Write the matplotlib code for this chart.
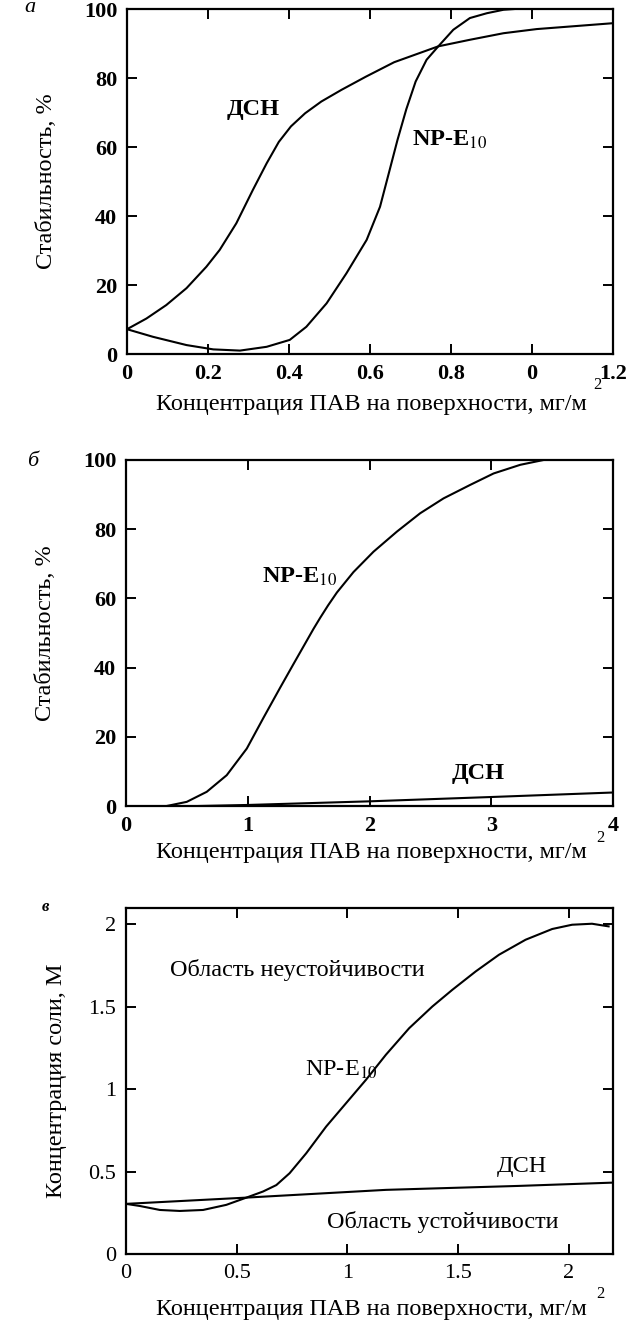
import matplotlib

matplotlib.use("Agg")
import matplotlib.pyplot as plt

plt.rcParams["font.family"] = ["Liberation Serif", "DejaVu Serif"]
plt.rcParams["mathtext.fontset"] = "stix"

# panel a: stability vs surface concentration
A_DSN_X = [0.0, 0.048, 0.097, 0.147, 0.196, 0.229, 0.27, 0.311, 0.345, 0.375, 0.405, 0.44,
           0.48, 0.53, 0.59, 0.66, 0.769, 0.847, 0.93, 1.012, 1.2]
A_DSN_Y = [7.2, 10.3, 14.2, 19.1, 25.3, 30.2, 37.9, 47.6, 55.3, 61.5, 66.0, 69.8,
           73.2, 76.6, 80.4, 84.6, 89.2, 91.1, 93.0, 94.2, 95.9]
A_NP_X = [0.0, 0.064, 0.147, 0.213, 0.279, 0.345, 0.402, 0.443, 0.493, 0.542, 0.592, 0.625,
          0.648, 0.668, 0.69, 0.713, 0.74, 0.769, 0.806, 0.847, 0.889, 0.93, 0.955]
A_NP_Y = [7.2, 5.0, 2.6, 1.35, 1.0, 2.1, 4.1, 7.9, 14.7, 23.4, 33.1, 42.7,
          53.0, 62.0, 71.0, 79.0, 85.3, 89.2, 94.0, 97.4, 98.8, 99.8, 100.0]
A_XTICKS = [0, 0.2, 0.4, 0.6, 0.8, 1.0, 1.2]
A_XLABELS = ["0", "0.2", "0.4", "0.6", "0.8", "0", "1.2"]
A_YTICKS = [0, 20, 40, 60, 80, 100]

# panel b
B_NP_X = [0.334, 0.499, 0.663, 0.827, 0.992, 1.129, 1.266, 1.375, 1.485, 1.54, 1.595, 1.66,
          1.732, 1.868, 2.033, 2.225, 2.416, 2.608, 2.827, 3.019, 3.238, 3.43]
B_NP_Y = [0.0, 1.2, 4.1, 8.9, 16.6, 25.5, 34.2, 41.0, 47.8, 51.2, 54.4, 58.0,
          61.7, 67.6, 73.5, 79.3, 84.6, 88.9, 92.8, 96.1, 98.6, 100.0]
B_DSN_X = [0.6, 1.0, 2.0, 3.0, 4.0]
B_DSN_Y = [0.0, 0.3, 1.35, 2.6, 3.9]
B_XTICKS = [0, 1, 2, 3, 4]
B_YTICKS = [0, 20, 40, 60, 80, 100]

# panel c: critical salt concentration
C_NP_X = [0.0, 0.063, 0.153, 0.243, 0.348, 0.453, 0.544, 0.619, 0.679, 0.739, 0.814, 0.904,
          0.994, 1.084, 1.174, 1.279, 1.384, 1.474, 1.58, 1.685, 1.805, 1.925, 2.015, 2.105, 2.18]
C_NP_Y = [0.304, 0.291, 0.267, 0.261, 0.267, 0.298, 0.342, 0.379, 0.418, 0.49, 0.611, 0.773,
          0.915, 1.057, 1.209, 1.37, 1.502, 1.603, 1.715, 1.816, 1.907, 1.972, 1.998, 2.004, 1.988]
C_DSN_X = [0.0, 0.544, 1.174, 1.775, 2.2]
C_DSN_Y = [0.304, 0.342, 0.389, 0.413, 0.433]
C_XTICKS = [0, 0.5, 1, 1.5, 2]
C_XLABELS = ["0", "0.5", "1", "1.5", "2"]
C_YTICKS = [0, 0.5, 1, 1.5, 2]
C_YLABELS = ["0", "0.5", "1", "1.5", "2"]

XLABEL = "Концентрация ПАВ на поверхности, мг/м"
NP_LABEL = "NP-E$_{10}$"
FS = 17.5


def style_axes(ax, tick_weight):
    for spine in ax.spines.values():
        spine.set_linewidth(1.6)
    ax.tick_params(direction="in", length=7, width=1.4, top=True, right=True,
                   labelsize=16, pad=7)
    for label in ax.get_xticklabels() + ax.get_yticklabels():
        label.set_fontweight(tick_weight)


def axis_labels(ax, ylabel, xlabel_y, ylabel_x, sup_xy):
    ax.set_xlabel(XLABEL, fontsize=FS, va="center")
    ax.set_ylabel(ylabel, fontsize=FS, va="center")
    ax.xaxis.set_label_coords(0.504, xlabel_y)
    ax.yaxis.set_label_coords(ylabel_x, 0.5)
    ax.text(sup_xy[0], sup_xy[1], "2", fontsize=12, transform=ax.transAxes,
            ha="center", va="center")


def main() -> None:
    fig = plt.figure(figsize=(6.26, 13.34), dpi=100)
    line = dict(color="black", linewidth=1.5)

    ax_a = fig.add_axes([0.2029, 0.7346, 0.776, 0.2586])
    ax_a.plot(A_DSN_X, A_DSN_Y, **line)
    ax_a.plot(A_NP_X, A_NP_Y, **line)
    ax_a.set_xlim(0, 1.2)
    ax_a.set_ylim(0, 100)
    ax_a.set_xticks(A_XTICKS, labels=A_XLABELS)
    ax_a.set_yticks(A_YTICKS)
    axis_labels(ax_a, "Стабильность, %", -0.147, -0.165, (0.968, -0.09))
    ax_a.text(0.311, 70.8, "ДСН", fontsize=FS, fontweight="bold", ha="center", va="center")
    ax_a.text(0.798, 62.1, NP_LABEL, fontsize=FS, fontweight="bold", ha="center", va="center")
    style_axes(ax_a, "bold")

    ax_b = fig.add_axes([0.2013, 0.3958, 0.778, 0.2594])
    ax_b.plot(B_NP_X, B_NP_Y, **line)
    ax_b.plot(B_DSN_X, B_DSN_Y, **line)
    ax_b.set_xlim(0, 4)
    ax_b.set_ylim(0, 100)
    ax_b.set_xticks(B_XTICKS)
    ax_b.set_yticks(B_YTICKS)
    axis_labels(ax_b, "Стабильность, %", -0.135, -0.165, (0.975, -0.092))
    ax_b.text(1.43, 66.2, NP_LABEL, fontsize=FS, fontweight="bold", ha="center", va="center")
    ax_b.text(2.896, 9.4, "ДСН", fontsize=FS, fontweight="bold", ha="center", va="center")
    style_axes(ax_b, "bold")

    ax_c = fig.add_axes([0.2013, 0.0600, 0.778, 0.2594])
    ax_c.plot(C_NP_X, C_NP_Y, **line)
    ax_c.plot(C_DSN_X, C_DSN_Y, **line)
    ax_c.set_xlim(0, 2.2)
    ax_c.set_ylim(0, 2.1)
    ax_c.set_xticks(C_XTICKS, labels=C_XLABELS)
    ax_c.set_yticks(C_YTICKS, labels=C_YLABELS)
    axis_labels(ax_c, "Концентрация соли, М", -0.16, -0.143, (0.975, -0.115))
    ax_c.text(0.776, 1.725, "Область неустойчивости", fontsize=FS, ha="center", va="center")
    ax_c.text(0.971, 1.117, NP_LABEL, fontsize=FS, ha="center", va="center")
    ax_c.text(1.79, 0.53, "ДСН", fontsize=FS, ha="center", va="center")
    ax_c.text(1.43, 0.196, "Область устойчивости", fontsize=FS, ha="center", va="center")
    style_axes(ax_c, "normal")

    fig.text(30 / 626, 1 - 8 / 1334, "а", fontsize=16, style="italic", ha="center", va="center")
    fig.text(33 / 626, 1 - 462 / 1334, "б", fontsize=16, style="italic", ha="center", va="center")
    fig.text(45 / 626, 1 - 907 / 1334, "в", fontsize=12, style="italic", fontweight="bold",
             ha="center", va="center")

    fig.savefig("out.png", dpi=100)
    plt.close(fig)


if __name__ == "__main__":
    main()
